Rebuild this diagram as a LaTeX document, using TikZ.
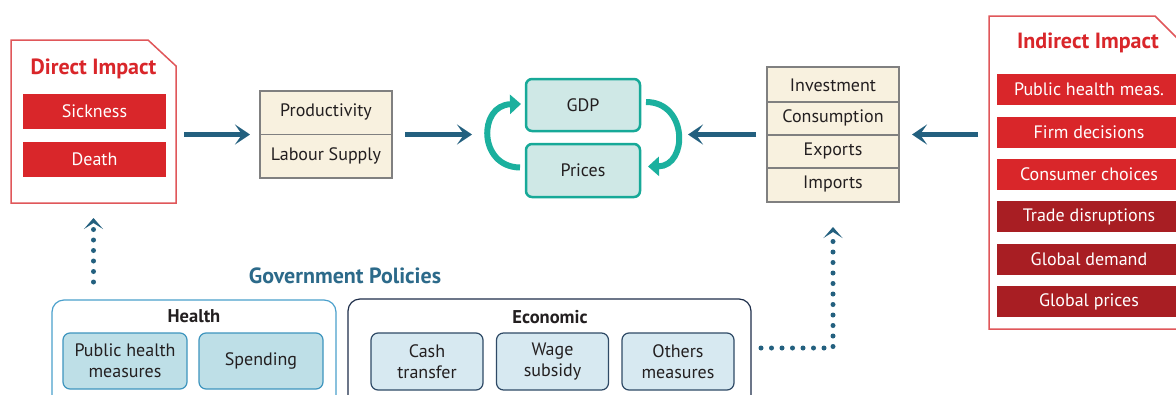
\documentclass[tikz,border=0pt]{standalone}
\usepackage{fontspec}
\setmainfont{PT Sans}
\usetikzlibrary{arrows.meta,calc}
\definecolor{redA}{HTML}{D9262A}
\definecolor{redB}{HTML}{A81E23}
\definecolor{redLine}{HTML}{E0575A}
\definecolor{arrowblue}{HTML}{23607F}
\definecolor{tealLine}{HTML}{17A998}
\definecolor{tealFill}{HTML}{CFE8E6}
\definecolor{tealArrow}{HTML}{1BB09E}
\definecolor{cream}{HTML}{F8F1DF}
\definecolor{grayLine}{HTML}{808080}
\definecolor{govBlue}{HTML}{2C6A8A}
\definecolor{healthLine}{HTML}{4BA0CC}
\definecolor{healthFill}{HTML}{BEDFE7}
\definecolor{healthSub}{HTML}{3E95BE}
\definecolor{econLine}{HTML}{1E2E4A}
\definecolor{econFill}{HTML}{D7E9F1}
\definecolor{econSub}{HTML}{2F4A66}
\definecolor{txt}{HTML}{231F20}
\tikzset{
  base/.style={inner sep=0pt, outer sep=0pt, font=\fontsize{18}{21}\selectfont, text=txt, align=center},
  redbar/.style={base, fill=redA, text=white, minimum width=143, minimum height=35},
  darkbar/.style={base, fill=redB, text=white, minimum width=184, minimum height=31},
  brightbar/.style={base, fill=redA, text=white, minimum width=184, minimum height=31},
  creambox/.style={base, fill=cream, draw=grayLine, line width=1.2pt, minimum width=132},
  tealbox/.style={base, fill=tealFill, draw=tealLine, line width=2.5pt, rounded corners=6pt, minimum width=114},
  bigarrow/.style={draw=arrowblue, line width=5pt, -{Stealth[length=15pt,width=20pt,inset=7pt]}},
  dotarrow/.style={draw=arrowblue, line width=5pt, line cap=round, dash pattern=on 0pt off 10.5pt, -{Stealth[length=11pt,width=19pt,inset=6pt]}},
  tealarrow/.style={draw=tealArrow, line width=6pt, -{Triangle[length=11pt,width=19pt]}},
  healthsub/.style={base, fill=healthFill, draw=healthSub, line width=1.2pt, rounded corners=7pt, minimum width=124, minimum height=56},
  econsub/.style={base, fill=econFill, draw=econSub, line width=1.2pt, rounded corners=7pt, minimum width=112, minimum height=57},
  title/.style={base, font=\fontsize{22}{24}\selectfont\bfseries},
  sectitle/.style={base, font=\fontsize{18.5}{21}\selectfont\bfseries},
}
\begin{document}
\begin{tikzpicture}[x=1pt,y=-1pt]
\clip (0,0) rectangle (1176,394);
\fill[white] (0,0) rectangle (1176,394);

% Direct impact
\node[base, minimum width=165, minimum height=163] (direct) at (93.5,121.5) {};
\draw[redLine, line width=1.5pt] (11,40) -- (148,40) -- (176,66) -- (176,203) -- (11,203) -- cycle;
\node[title, text=redA] (dtitle) at (93.5,69) {Direct Impact};
\node[redbar] (sick) at (94.5,111.5) {Sickness};
\node[redbar] (death) at (94.5,159) {Death};

% Productivity / Labour supply
\node[creambox, minimum height=87] (prod) at (326,134.5) {};
\draw[grayLine, line width=1.2pt] (prod.west) -- (prod.east);
\node[base] (prodt) at (326,112) {Productivity};
\node[base] (labt) at (326,156) {Labour Supply};

% GDP / Prices
\node[tealbox, minimum height=52] (gdp) at (583,105) {GDP};
\node[tealbox, minimum height=53] (prices) at (583,170.5) {Prices};
\draw[tealarrow] ($(prices.west)+(-6,-3)$) .. controls (478,167) and (478,105) .. ($(gdp.west)+(-5,-1)$);
\draw[tealarrow] ($(gdp.east)+(6,-3)$) .. controls (688,102) and (688,166) .. ($(prices.east)+(8,-4)$);

% Demand box
\node[creambox, minimum height=135] (demand) at (833,134.5) {};
\draw[grayLine, line width=1.2pt] (demand.west |- 0,102) -- (demand.east |- 0,102);
\draw[grayLine, line width=1.2pt] (demand.west |- 0,135) -- (demand.east |- 0,135);
\draw[grayLine, line width=1.2pt] (demand.west |- 0,168) -- (demand.east |- 0,168);
\node[base] (inv) at (833,85) {Investment};
\node[base] (cons) at (833,118) {Consumption};
\node[base] (exp) at (833,151) {Exports};
\node[base] (imp) at (833,184) {Imports};

% Indirect impact
\node[base, minimum width=206, minimum height=313] (indirect) at (1092,172.5) {};
\draw[redLine, line width=1.5pt] (989,16) -- (1155,16) -- (1195,56) -- (1195,329) -- (989,329) -- cycle;
\node[title, text=redA] (ititle) at (1088,43) {Indirect Impact};
\node[brightbar] (b1) at (1089,89.5) {Public health meas.};
\node[brightbar] (b2) at (1089,132.5) {Firm decisions};
\node[brightbar] (b3) at (1089,174.5) {Consumer choices};
\node[darkbar] (b4) at (1089,216.5) {Trade disruptions};
\node[darkbar] (b5) at (1089,259.5) {Global demand};
\node[darkbar] (b6) at (1089,301.5) {Global prices};

% main arrows
\draw[bigarrow, shorten <=8pt, shorten >=10pt] (direct.east |- prod.west) -- (prod.west);
\draw[bigarrow, shorten <=13pt, shorten >=54pt] (prod.east) -- (gdp.west |- prod.east);
\draw[bigarrow, shorten <=11pt, shorten >=48pt] (demand.west) -- (gdp.east |- demand.west);
\draw[bigarrow, shorten <=11pt, shorten >=13pt] (indirect.west |- demand.east) -- (demand.east);

% Government policies
\node[title, text=govBlue] (gov) at (345,276) {Government Policies};
\node[base, draw=healthLine, line width=1.2pt, rounded corners=12pt, minimum width=284, minimum height=110] (health) at (194,355) {};
\node[sectitle] (htitle) at (194,316) {Health};
\node[healthsub] (pubh) at (125,361) {Public health\\measures};
\node[healthsub] (spend) at (261,361) {Spending};

\node[base, draw=econLine, line width=1.2pt, rounded corners=12pt, minimum width=403, minimum height=110] (econ) at (549.5,354) {};
\node[sectitle] (etitle) at (550,317) {Economic};
\node[econsub] (cash) at (427,361.5) {Cash\\transfer};
\node[econsub] (wage) at (552.5,361.5) {Wage\\subsidy};
\node[econsub] (others) at (678,361.5) {Others\\measures};

% dotted arrows
\draw[dotarrow, shorten <=18pt, shorten >=15pt] (direct.south |- health.north) -- (direct.south);
\coordinate (bend) at (833,348);
\draw[dotarrow, shorten <=10pt, shorten >=25pt] (econ.east |- bend) -- (bend) -- (demand.south);
\end{tikzpicture}
\end{document}
